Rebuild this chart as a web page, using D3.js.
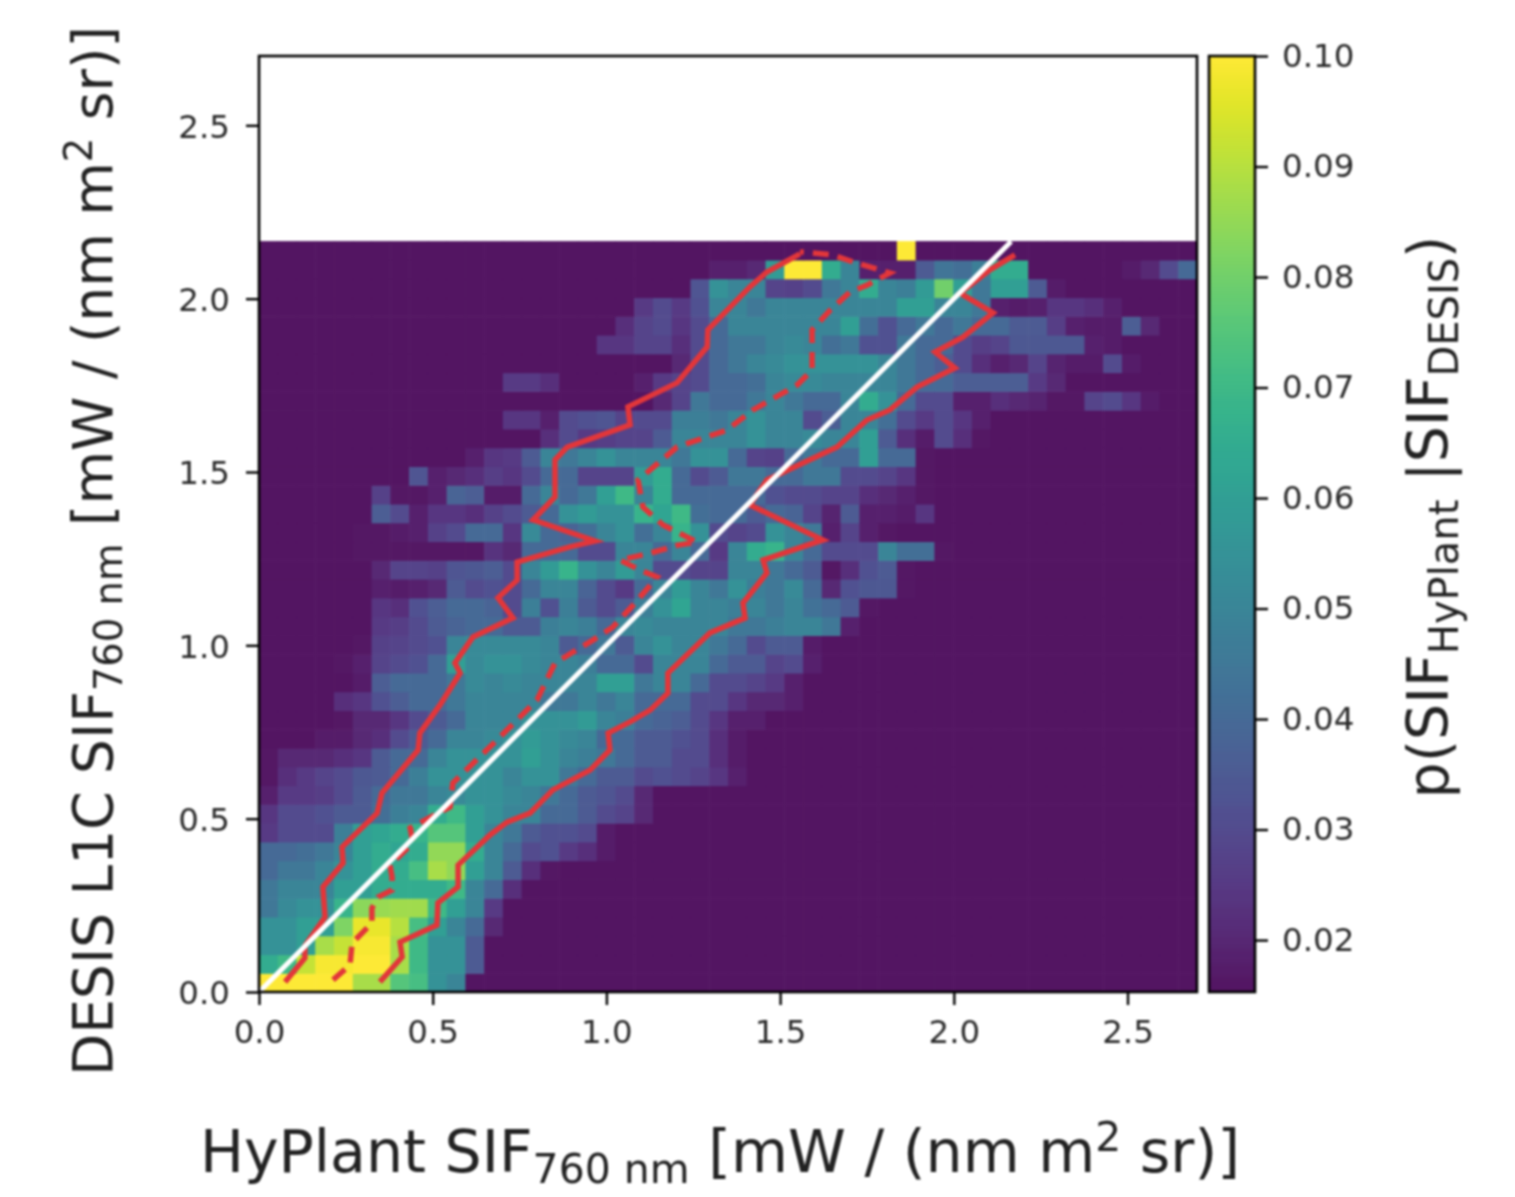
<!DOCTYPE html>
<html>
<head>
<meta charset="utf-8">
<title>HyPlant vs DESIS SIF</title>
<script src="https://cdn.jsdelivr.net/npm/d3@7"></script>
<style>
  body { margin: 0; background: #fff; }
  svg { display: block; filter: blur(0.9px); }
  text { font-family: "DejaVu Sans", sans-serif; fill: #222; }
</style>
</head>
<body>
<div id="chart"></div>
<script>
// Podatki, odčitani s slike
const axisMax = 2.7;
const binSizeX = 0.054;
const binSizeY = 0.05415;
const axisTicks = [0, 0.5, 1, 1.5, 2, 2.5];
const cbarTicks = [0.02, 0.03, 0.04, 0.05, 0.06, 0.07, 0.08, 0.09, 0.10];
const cbarDomain = [0.0153, 0.10];
const xLabelParts = ["HyPlant SIF", "760 nm", " [mW / (nm m", "2", " sr)]"];
const yLabelParts = ["DESIS L1C SIF", "760 nm", " [mW / (nm m", "2", " sr)]"];

// verjetnost x 1000, vrstica 0 je spodaj; manjkajoče celice na desni = 15
const pRows = [
  [100,100,100,100,100,88,88,75,72,55,50],
  [65,70,92,99,99,100,100,88,70,55,55,35],
  [55,55,60,88,92,99,99,88,70,55,55,35],
  [55,55,60,60,82,97,97,90,72,60,50,40,20],
  [45,52,55,55,68,84,86,87,87,70,60,50,25],
  [45,50,50,50,60,60,65,65,65,65,70,50,40,22],
  [40,45,45,50,55,60,65,65,72,88,85,60,50,35,22,16],
  [40,40,42,45,50,60,65,62,65,85,85,65,50,40,30,32,25,22,17],
  [25,30,30,30,48,60,62,65,68,75,75,60,50,45,35,32,32,30,17],
  [24,30,30,32,35,35,42,48,50,65,70,60,55,50,50,40,40,35,30,28,20],
  [18,25,25,26,30,35,40,45,45,50,52,55,55,52,50,45,40,35,33,30,20],
  [16,22,25,28,30,34,35,40,48,55,55,55,55,50,55,55,45,40,35,35,30,32,30,28,24,18],
  [16,20,20,20,22,24,35,40,40,50,55,55,55,55,60,55,50,48,45,40,35,35,30,30,22,17],
  [15,15,15,17,17,20,22,30,35,40,50,50,52,55,58,55,52,50,40,40,35,35,32,30,22,17],
  [15,15,15,15,16,20,20,24,30,35,40,50,50,50,55,55,55,58,50,48,40,38,36,30,24,18,18],
  [15,15,15,15,22,24,32,36,40,40,45,50,50,50,50,45,45,50,45,50,40,40,40,30,30,24,20,20,18],
  [15,15,15,15,15,17,36,40,40,40,45,52,50,52,50,50,50,50,60,60,45,50,50,40,30,30,28,25,18],
  [15,15,15,15,16,18,28,30,32,40,60,52,55,55,52,50,50,48,40,40,30,50,50,50,40,35,35,28,30,18],
  [15,15,15,15,15,16,27,28,30,32,50,52,52,52,52,50,35,40,45,35,50,55,50,50,45,40,30,35,35,17],
  [15,15,15,15,15,15,25,26,30,35,38,40,40,35,35,48,50,48,40,50,52,50,50,50,50,45,45,48,50,50,45,18],
  [15,15,15,15,15,15,24,22,32,36,40,40,38,30,48,32,48,35,30,35,48,55,62,50,50,48,50,45,50,43,40,35,16],
  [15,15,15,15,15,15,18,17,18,20,35,30,32,30,40,50,50,38,30,25,40,50,58,50,45,55,48,45,52,40,20,32,34,34,16],
  [15,15,15,15,15,15,20,28,28,27,33,34,36,30,50,58,68,55,50,58,50,30,30,28,28,50,50,45,40,35,16,22,32,35,16],
  [15,15,15,15,15,16,16,16,16,16,16,16,23,20,40,40,40,30,30,50,50,40,50,40,25,50,65,68,50,40,30,30,30,50,42,42,16],
  [15,15,15,15,15,16,16,17,18,27,30,40,40,24,52,40,38,42,50,55,42,50,68,55,30,28,30,55,50,45,18,28,18,16],
  [15,15,15,15,15,15,36,30,18,24,24,22,27,30,35,40,55,58,55,55,68,62,70,42,40,40,35,40,38,28,19,35,18,18,17,24],
  [15,15,15,15,15,15,27,16,16,18,38,36,17,17,40,50,40,45,60,70,50,65,40,40,40,40,40,32,30,30,28,28,22,20,18,16],
  [15,15,15,15,15,15,15,15,33,18,20,22,26,24,30,40,40,28,28,28,58,65,40,30,35,45,45,40,40,45,45,30,30,28,24,16],
  [15,15,15,15,15,15,15,15,15,15,15,18,24,25,35,50,45,50,55,50,50,50,45,55,55,40,28,27,40,45,40,40,60,40,40,16],
  [15,15,15,15,15,15,15,15,15,15,15,15,15,15,15,22,30,25,26,28,28,35,50,50,50,50,55,50,50,52,50,50,60,35,22,17,30,22,16],
  [15,15,15,15,15,15,15,15,15,15,15,15,15,24,24,18,30,32,33,28,30,30,48,48,45,50,55,50,50,30,36,50,50,42,30,25,30,24,18],
  [15,15,15,15,15,15,15,15,15,15,15,15,15,15,15,15,15,15,15,15,15,20,28,45,40,40,45,50,45,40,40,50,65,55,40,30,30,18,18,22,20,19,16,16,28,30,24,17],
  [15,15,15,15,15,15,15,15,15,15,15,15,15,25,25,22,15,15,15,15,18,25,28,30,40,40,42,50,52,52,50,50,50,50,45,40,40,36,36,36,36,25,20],
  [15,15,15,15,15,15,15,15,15,15,15,15,15,15,15,15,15,15,15,15,15,15,20,30,40,45,50,52,55,55,55,55,55,50,45,40,36,30,22,18,20,28,19,17,17,30,17],
  [15,15,15,15,15,15,15,15,15,15,15,15,15,15,15,15,15,15,24,24,28,28,22,30,40,45,45,50,52,50,42,45,32,32,45,40,40,30,26,28,34,34,34,34,18,17],
  [15,15,15,15,15,15,15,15,15,15,15,15,15,15,15,15,15,15,15,22,28,30,24,30,40,50,50,50,50,50,50,60,42,32,40,45,40,45,40,40,35,35,26,18,17,17,36,20],
  [15,15,15,15,15,15,15,15,15,15,15,15,15,15,15,15,15,15,15,15,25,30,25,32,50,50,45,50,50,50,50,50,50,50,60,60,50,50,45,18,17,18,24,24,22,18],
  [15,15,15,15,15,15,15,15,15,15,15,15,15,15,15,15,15,15,15,15,15,15,15,33,55,50,50,28,27,30,45,50,65,50,48,58,80,60,45,60,60,35,17],
  [15,15,15,15,15,15,15,15,15,15,15,15,15,15,15,15,15,15,15,15,15,15,15,15,18,18,20,58,100,100,65,50,18,18,18,35,44,42,48,65,65,15,15,15,15,15,17,20,30,40],
  [15,15,15,15,15,15,15,15,15,15,15,15,15,15,15,15,15,15,15,15,15,15,15,15,15,15,15,15,15,15,15,15,15,15,100]
];

// Rdeče krivulje (spodnja in zgornja meja ter mediana)
const upperX = [0.075,0.132,0.132,0.19,0.184,0.242,0.239,0.34,0.354,0.458,0.463,0.521,0.579,0.564,0.616,0.731,0.688,0.743,0.743,0.895,0.967,0.789,0.852,0.852,0.887,1.068,1.062,1.203,1.29,1.292,1.413,1.462,1.557];
const upperY = [0.029,0.098,0.133,0.216,0.303,0.372,0.418,0.516,0.574,0.698,0.747,0.828,0.92,0.949,1.024,1.079,1.137,1.188,1.24,1.284,1.301,1.362,1.428,1.535,1.572,1.636,1.688,1.757,1.861,1.91,2.034,2.077,2.129];
const lowerX = [0.348,0.412,0.406,0.512,0.515,0.573,0.573,0.665,0.714,0.78,0.846,0.953,1.01,1.005,1.068,1.126,1.177,1.177,1.298,1.399,1.393,1.462,1.451,1.623,1.413,1.462,1.664,1.75,1.816,1.894,2.003,1.946,2.026,2.113,2.018,2.104,2.176];
const lowerY = [0.029,0.101,0.144,0.193,0.257,0.303,0.366,0.453,0.49,0.516,0.583,0.64,0.698,0.747,0.779,0.813,0.862,0.92,1.036,1.079,1.122,1.209,1.246,1.304,1.405,1.477,1.572,1.65,1.679,1.745,1.8,1.846,1.889,1.959,2.016,2.083,2.126];
const medianX = [0.213,0.262,0.268,0.325,0.325,0.343,0.383,0.383,0.377,0.443,0.435,0.55,0.558,0.685,0.8,0.852,0.961,1.019,1.077,1.146,1.097,1.039,1.126,1.206,1.261,1.163,1.105,1.091,1.126,1.203,1.347,1.422,1.549,1.592,1.592,1.644,1.701,1.75,1.816,1.71,1.652,1.557];
const medianY = [0.035,0.078,0.141,0.199,0.242,0.274,0.294,0.332,0.366,0.43,0.473,0.534,0.603,0.727,0.842,0.949,1.015,1.053,1.116,1.197,1.217,1.246,1.266,1.289,1.298,1.347,1.399,1.477,1.506,1.572,1.621,1.679,1.751,1.794,1.91,1.967,2.019,2.039,2.074,2.106,2.126,2.135];
const oneToOne = [0, 2.165];

function drawChart() {
    const width = 1515, height = 1197;
    const plot = { left: 259, right: 1197, top: 56, bottom: 992 };
    const cbar = { left: 1209, right: 1255 };

    const svg = d3.select("#chart").append("svg")
        .attr("width", width)
        .attr("height", height);

    const x = d3.scaleLinear().domain([0, axisMax]).range([plot.left, plot.right]);
    const y = d3.scaleLinear().domain([0, axisMax]).range([plot.bottom, plot.top]);
    const cy = d3.scaleLinear().domain(cbarDomain).range([plot.bottom, plot.top]);
    const viridis = d3.scaleSequential(d3.interpolateViridis).domain(cbarDomain);
    // Barve so rahlo prosojne na beli podlagi
    const color = v => d3.interpolateRgb(viridis(v), "#fff")(0.08);

    // Celice histograma
    const cells = [];
    pRows.forEach((row, r) => {
        for (let c = 0; c < 50; c++) {
            const v = c < row.length ? row[c] : 15;
            cells.push({ c, r, v: v / 1000 });
        }
    });

    svg.append("g")
        .selectAll("rect")
        .data(cells)
        .enter()
        .append("rect")
        .attr("x", d => x(d.c * binSizeX))
        .attr("y", d => y((d.r + 1) * binSizeY))
        .attr("width", d => x(binSizeX) - x(0) + (d.c < 49 ? 0.6 : 0))
        .attr("height", d => y(0) - y(binSizeY) + (d.r > 0 ? 0.6 : 0))
        .attr("fill", d => color(d.v));

    // Krivulje
    const line = d3.line().x(d => x(d[0])).y(d => y(d[1]));
    const red = "#e2363a";

    svg.append("path")
        .attr("d", line(medianX.map((v, i) => [v, medianY[i]])))
        .attr("fill", "none").attr("stroke", red).attr("stroke-width", 5.5)
        .attr("stroke-dasharray", "16,9");
    svg.append("path")
        .attr("d", line(upperX.map((v, i) => [v, upperY[i]])))
        .attr("fill", "none").attr("stroke", red).attr("stroke-width", 5.5);
    svg.append("path")
        .attr("d", line(lowerX.map((v, i) => [v, lowerY[i]])))
        .attr("fill", "none").attr("stroke", red).attr("stroke-width", 5.5);
    svg.append("path")
        .attr("d", line(oneToOne.map(v => [v, v])))
        .attr("fill", "none").attr("stroke", "#fff").attr("stroke-width", 5);

    // Osi
    const styleAxis = g => {
        g.selectAll("text").attr("font-size", 32.5).style("fill", "#2a2a2a");
        g.selectAll("line").attr("stroke", "#000").attr("stroke-width", 2.4);
        g.select(".domain").remove();
    };

    svg.append("g")
        .attr("transform", `translate(0,${plot.bottom})`)
        .call(d3.axisBottom(x).tickValues(axisTicks).tickFormat(d3.format(".1f")).tickSize(13).tickPadding(15))
        .call(styleAxis);

    svg.append("g")
        .attr("transform", `translate(${plot.left},0)`)
        .call(d3.axisLeft(y).tickValues(axisTicks).tickFormat(d3.format(".1f")).tickSize(13).tickPadding(16))
        .call(styleAxis)
        .selectAll("text").attr("dy", "0.36em");

    svg.append("rect")
        .attr("x", plot.left).attr("y", plot.top)
        .attr("width", plot.right - plot.left).attr("height", plot.bottom - plot.top)
        .attr("fill", "none").attr("stroke", "#000").attr("stroke-width", 2.6);

    // Barvna lestvica
    const steps = d3.range(cbarDomain[0], cbarDomain[1], (cbarDomain[1] - cbarDomain[0]) / 256);
    svg.append("g")
        .selectAll("rect")
        .data(steps)
        .enter()
        .append("rect")
        .attr("x", cbar.left)
        .attr("y", d => cy(d) - 4)
        .attr("width", cbar.right - cbar.left)
        .attr("height", 4.5)
        .attr("fill", d => color(d));

    svg.append("rect")
        .attr("x", cbar.left).attr("y", plot.top)
        .attr("width", cbar.right - cbar.left).attr("height", plot.bottom - plot.top)
        .attr("fill", "none").attr("stroke", "#000").attr("stroke-width", 2.6);

    svg.append("g")
        .attr("transform", `translate(${cbar.right},0)`)
        .call(d3.axisRight(cy).tickValues(cbarTicks).tickFormat(d3.format(".2f")).tickSize(13).tickPadding(14))
        .call(styleAxis)
        .selectAll("text").attr("dy", "0.32em");

    // Naslovi osi
    const addLabel = (parts, attrs) => {
        const t = svg.append("text")
            .attr("font-size", attrs.size)
            .attr("text-anchor", "middle")
            .attr("transform", attrs.transform);
        parts.forEach(p => {
            t.append("tspan")
                .attr("font-size", p.size || attrs.size)
                .attr("dy", p.dy || 0)
                .text(p.text);
        });
    };

    const labelParts = (parts, size) => [
        { text: parts[0] },
        { text: parts[1], size: size * 0.7, dy: size * 0.18 },
        { text: parts[2], dy: -size * 0.18 },
        { text: parts[3], size: size * 0.7, dy: -size * 0.36 },
        { text: parts[4], dy: size * 0.36 }
    ];

    addLabel(labelParts(xLabelParts, 58.5), { size: 58.5, transform: "translate(720,1172)" });
    addLabel(labelParts(yLabelParts, 55), { size: 55, transform: "translate(112,551) rotate(-90)" });

    const cbarLabel = [
        { text: "p(SIF" },
        { text: "HyPlant", size: 40, dy: 10 },
        { text: " |SIF", dy: -10 },
        { text: "DESIS", size: 40, dy: 10 },
        { text: ")", dy: -10 }
    ];
    addLabel(cbarLabel, { size: 57, transform: "translate(1448,517) rotate(-90)" });
}

drawChart();
</script>
</body>
</html>
